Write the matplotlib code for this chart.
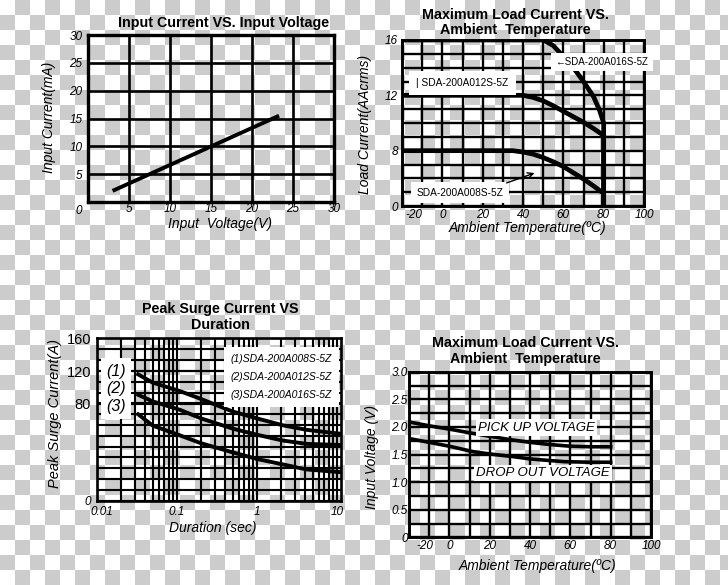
import numpy as np
import matplotlib
matplotlib.use('Agg')
import matplotlib.pyplot as plt
from matplotlib.colors import ListedColormap
from matplotlib.transforms import ScaledTranslation

W, H = 728, 585

# Input current vs input voltage
volt = [3.0, 23.3]
in_cur = [2.0, 15.5]
p1_ticks = [0, 5, 10, 15, 20, 25, 30]

# Maximum load current vs ambient temperature
t16 = [-20, 50, 55, 60, 65, 70, 75, 78, 80, 80]
i16 = [16, 16, 15.6, 14.8, 14.0, 13.0, 11.9, 10.9, 10.0, 0]
t12 = [-20, 40, 45, 50, 55, 60, 65, 70, 75, 80, 80]
i12 = [12, 12, 11.85, 11.6, 11.25, 10.85, 10.45, 10.05, 9.6, 9.1, 0]
t08 = [-20, 35, 40, 45, 50, 55, 60, 65, 70, 75, 80, 80]
i08 = [8, 8, 7.8, 7.5, 7.0, 6.4, 5.7, 4.8, 3.9, 2.9, 1.8, 0]
temp_ticks = [-20, 0, 20, 40, 60, 80, 100]
load_ticks = [0, 8, 12, 16]
load_grid = [2, 4, 6, 9, 10, 11, 13, 14, 15]

# Peak surge current vs duration
dur = [0.033, 0.05, 0.11, 0.2, 0.5, 1, 2.1, 4.2, 11]
surge1 = [116, 106, 95.5, 86, 73.6, 68, 62.3, 58.5, 55.3]
surge2 = [91, 83, 75, 68, 59.5, 54.5, 49.7, 46.9, 46]
surge3 = [71.3, 62, 53.9, 47.5, 39.9, 34.5, 30, 25.8, 23.6]
dur_ticks = [0.01, 0.1, 1, 10]
dur_labels = ['0.01', '0.1', '1', '10']
surge_ticks = [0, 80, 120, 160]

# Pick up / drop out voltage vs ambient temperature
t_pu = [-20, -10, 0, 12, 20, 30, 40, 50, 60, 70, 80]
v_pu = [2.09, 2.02, 1.96, 1.88, 1.83, 1.77, 1.72, 1.68, 1.65, 1.64, 1.64]
t_do = [-20, -10, 0, 12, 20, 32, 40, 50, 57, 70, 80]
v_do = [1.79, 1.72, 1.65, 1.55, 1.51, 1.46, 1.42, 1.39, 1.37, 1.36, 1.36]
volt_ticks = [0, 0.5, 1.0, 1.5, 2.0, 2.5, 3.0]
volt_labels = ['0', '0.5', '1.0', '1.5', '2.0', '2.5', '3.0']

plt.rcParams['font.family'] = ['Liberation Sans', 'DejaVu Sans']

fig = plt.figure(figsize=(W / 100, H / 100), dpi=100)

# transparent-background checkerboard
bg = fig.add_axes([0, 0, 1, 1], zorder=-10)
checker = np.indices((40, 50)).sum(axis=0) % 2
bg.imshow(checker, cmap=ListedColormap(['white', '#cccccc']),
          extent=[0, 750, 600, 0], interpolation='nearest', aspect='auto')
bg.set_xlim(0, W)
bg.set_ylim(H, 0)
bg.axis('off')


def axes_px(l, t, r, b):
    ax = fig.add_axes([l / W, 1 - b / H, (r - l) / W, (b - t) / H])
    ax.set_facecolor('none')
    return ax


def ftext(x, y, s, **kw):
    fig.text(x / W, 1 - y / H, s, ha='center', va='center', **kw)


def frame(ax, lw):
    for sp in ax.spines.values():
        sp.set_linewidth(lw)
    ax.tick_params(which='both', length=0, labelsize=8.5)
    ax.grid(which='both', color='black', lw=lw * 0.8)
    ax.set_axisbelow(True)


def shift(label, dx, dy):
    label.set_transform(label.get_transform() + ScaledTranslation(dx / 100, dy / 100, fig.dpi_scale_trans))


white = dict(facecolor='white', edgecolor='none')

# ---- panel 1
ax1 = axes_px(88, 35, 334, 202)
frame(ax1, 2.4)
ax1.plot(volt, in_cur, color='black', lw=2.8, solid_capstyle='butt')
ax1.set_xlim(0, 30)
ax1.set_ylim(0, 30)
ax1.set_xticks(p1_ticks[1:])
ax1.set_xticklabels([str(v) for v in p1_ticks[1:]], fontstyle='italic')
ax1.set_yticks(p1_ticks)
ax1.set_yticklabels([str(v) for v in p1_ticks], fontstyle='italic')
ax1.tick_params(axis='x', pad=1)
ax1.tick_params(axis='y', pad=4)
shift(ax1.get_yticklabels()[0], 0, -8)
ftext(224, 23, 'Input Current VS. Input Voltage', fontsize=10.3, fontweight='bold')
ftext(220, 224, 'Input  Voltage(V)', fontsize=10, fontstyle='italic')
ftext(49, 117, 'Input Current(mA)', fontsize=10, fontstyle='italic', rotation=90)

# ---- panel 2
ax2 = axes_px(402, 40, 644, 206)
ax2.set_yscale('function', functions=(
    lambda y: np.interp(y, [0, 8, 12, 16], [0, 1, 2, 3]),
    lambda t: np.interp(t, [0, 1, 2, 3], [0, 8, 12, 16])))
frame(ax2, 2.1)
for tt, ii in [(t16, i16), (t12, i12), (t08, i08)]:
    ax2.plot(tt, ii, color='black', lw=3.4, solid_capstyle='butt')
ax2.set_xlim(-20, 100)
ax2.set_ylim(0, 16)
ax2.set_xticks(temp_ticks)
ax2.set_xticks(range(-10, 100, 20), minor=True)
ax2.set_xticklabels([str(v) for v in temp_ticks], fontstyle='italic')
ax2.set_yticks(load_ticks)
ax2.set_yticks(load_grid, minor=True)
ax2.set_yticklabels([str(v) for v in load_ticks], fontstyle='italic')
ax2.yaxis.set_minor_formatter(plt.NullFormatter())
ax2.tick_params(axis='x', pad=2)
ax2.tick_params(axis='y', pad=3)
shift(ax2.get_xticklabels()[0], 12, 0)
ax2.text(0.826, 0.866, '\u2190SDA-200A016S-5Z', transform=ax2.transAxes, ha='center',
         va='center', fontsize=7.0, bbox=dict(white, pad=3))
ax2.text(0.250, 0.739, '| SDA-200A012S-5Z', transform=ax2.transAxes, ha='center',
         va='center', fontsize=7.3, bbox=dict(white, pad=5))
ax2.text(0.240, 0.0795, 'SDA-200A008S-5Z', transform=ax2.transAxes, ha='center',
         va='center', fontsize=7.3, bbox=dict(white, pad=4))
ax2.annotate('', xy=(47, 4.9), xytext=(30.6, 3.2),
             arrowprops=dict(arrowstyle='->', lw=1, color='black'))
ftext(515, 15, 'Maximum Load Current VS.', fontsize=10.3, fontweight='bold')
ftext(515, 30, 'Ambient  Temperature', fontsize=10.3, fontweight='bold')
ftext(527, 228, 'Ambient Temperature(\u00baC)', fontsize=10, fontstyle='italic')
ftext(365, 124, 'Load Current(AAcrms)', fontsize=10, fontstyle='italic', rotation=90)

# ---- panel 3
ax3 = axes_px(96.7, 338.5, 340.7, 500.7)
ax3.set_xscale('log')
ax3.set_yscale('function', functions=(
    lambda v: np.interp(v, [0, 80, 160], [0, 95, 159]),
    lambda t: np.interp(t, [0, 95, 159], [0, 80, 160])))
frame(ax3, 1.9)
for s in (surge1, surge2, surge3):
    ax3.plot(dur, s, color='black', lw=2.8)
ax3.set_xlim(0.01, 11.2)
ax3.set_ylim(0, 160)
ax3.set_xticks(dur_ticks)
ax3.set_xticklabels(dur_labels, fontstyle='italic')
ax3.set_yticks(surge_ticks)
ax3.set_yticklabels([str(v) for v in surge_ticks], fontsize=10.5)
ax3.get_yticklabels()[0].set_fontstyle('italic')
ax3.get_yticklabels()[0].set_fontsize(8.5)
hgrid = np.interp(np.linspace(0, 159, 16)[1:-1], [0, 95, 159], [0, 80, 160])
ax3.set_yticks(hgrid, minor=True)
ax3.yaxis.set_minor_formatter(plt.NullFormatter())
ax3.xaxis.set_minor_formatter(plt.NullFormatter())
ax3.tick_params(axis='x', pad=4)
ax3.tick_params(axis='y', pad=4)
shift(ax3.get_xticklabels()[0], 5, 0)
ax3.text(0.079, 0.689, '(1)\n(2)\n(3)', transform=ax3.transAxes, ha='center', va='center',
         fontsize=11.5, fontstyle='italic', linespacing=1.2, bbox=dict(white, pad=4))
ax3.text(0.758, 0.764, '(1)SDA-200A008S-5Z\n(2)SDA-200A012S-5Z\n(3)SDA-200A016S-5Z',
         transform=ax3.transAxes, ha='center', va='center', fontsize=7.5,
         fontstyle='italic', linespacing=2.0, bbox=dict(white, pad=5))
ftext(220, 309, 'Peak Surge Current VS', fontsize=10.3, fontweight='bold')
ftext(220, 325, 'Duration', fontsize=10.3, fontweight='bold')
ftext(213, 528, 'Duration (sec)', fontsize=10, fontstyle='italic')
ftext(55, 413, 'Peak Surge Current(A)', fontsize=10.5, fontstyle='italic', rotation=90)

# ---- panel 4
ax4 = axes_px(409, 371.7, 651, 537.3)
frame(ax4, 2.1)
ax4.plot(t_pu, v_pu, color='black', lw=2.6)
ax4.plot(t_do, v_do, color='black', lw=2.6)
ax4.set_xlim(-20, 100)
ax4.set_ylim(0, 3)
ax4.set_xticks(temp_ticks)
ax4.set_xticks(range(-10, 100, 20), minor=True)
ax4.set_xticklabels([str(v) for v in temp_ticks], fontstyle='italic')
ax4.set_yticks(volt_ticks)
ax4.set_yticks(np.arange(0.25, 3, 0.5), minor=True)
ax4.set_yticklabels(volt_labels, fontstyle='italic')
ax4.tick_params(axis='x', pad=2)
ax4.tick_params(axis='y', pad=1)
shift(ax4.get_xticklabels()[0], 16, 0)
ax4.text(0.527, 0.663, 'PICK UP VOLTAGE', transform=ax4.transAxes, ha='center', va='center',
         fontsize=9.5, fontstyle='italic', bbox=dict(white, pad=1.5))
ax4.text(0.554, 0.3895, 'DROP OUT VOLTAGE', transform=ax4.transAxes, ha='center', va='center',
         fontsize=9.5, fontstyle='italic', bbox=dict(white, pad=1.5))
ftext(525, 343, 'Maximum Load Current VS.', fontsize=10.3, fontweight='bold')
ftext(525, 359, 'Ambient  Temperature', fontsize=10.3, fontweight='bold')
ftext(538, 566, 'Ambient Temperature(\u00baC)', fontsize=10, fontstyle='italic')
ftext(372, 457, 'Input Voltage (V)', fontsize=10, fontstyle='italic', rotation=90)

fig.savefig('out.png', dpi=100)
